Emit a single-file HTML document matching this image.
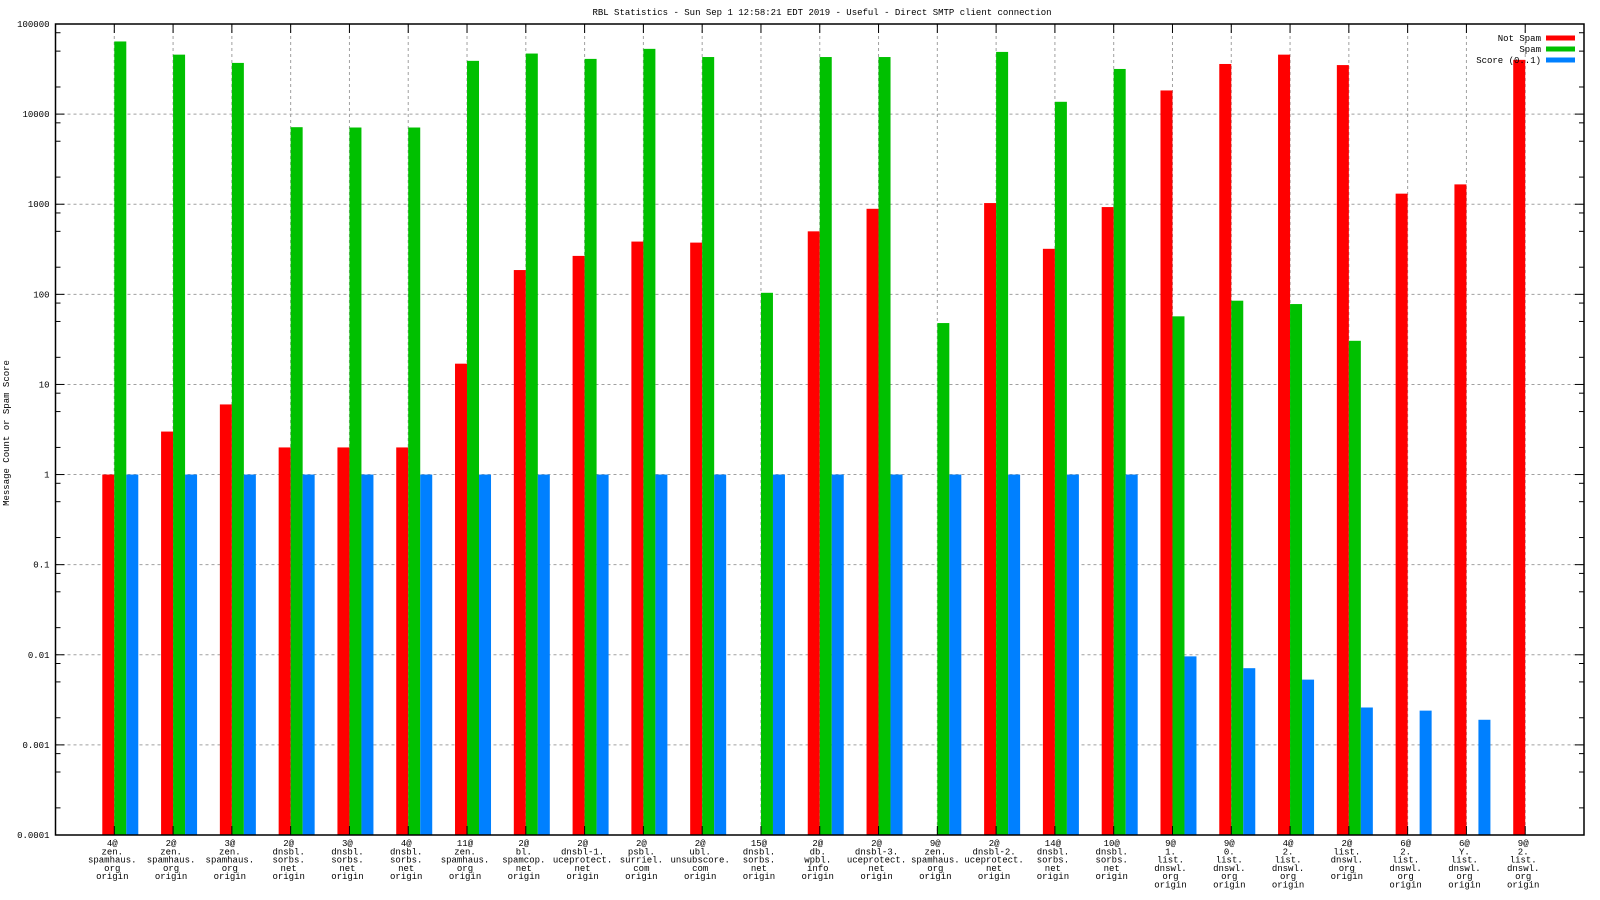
<!DOCTYPE html>
<html><head><meta charset="utf-8"><style>
html,body{margin:0;padding:0;background:#fff;}
svg{display:block;font-family:"Liberation Mono","DejaVu Sans Mono",monospace;}
</style></head><body>
<svg id="chart" width="1600" height="900" viewBox="0 0 1600 900" xmlns="http://www.w3.org/2000/svg">
<rect width="1600" height="900" fill="#fff"/>
<text x="822" y="15" font-size="9" text-anchor="middle">RBL Statistics - Sun Sep  1 12:58:21 EDT 2019 - Useful - Direct SMTP client connection</text>
<text x="0" y="0" font-size="9" text-anchor="middle" transform="translate(9,433) rotate(-90)">Message Count or Spam Score</text>
<g id="grid"></g><g id="bars"></g><g id="axes"></g><g id="legend"></g>
</svg>
<script>
const categories = [
 ["4@","zen.","spamhaus.","org","origin"],["2@","zen.","spamhaus.","org","origin"],["3@","zen.","spamhaus.","org","origin"],
 ["2@","dnsbl.","sorbs.","net","origin"],["3@","dnsbl.","sorbs.","net","origin"],["4@","dnsbl.","sorbs.","net","origin"],
 ["11@","zen.","spamhaus.","org","origin"],["2@","bl.","spamcop.","net","origin"],["2@","dnsbl-1.","uceprotect.","net","origin"],
 ["2@","psbl.","surriel.","com","origin"],["2@","ubl.","unsubscore.","com","origin"],["15@","dnsbl.","sorbs.","net","origin"],
 ["2@","db.","wpbl.","info","origin"],["2@","dnsbl-3.","uceprotect.","net","origin"],["9@","zen.","spamhaus.","org","origin"],
 ["2@","dnsbl-2.","uceprotect.","net","origin"],["14@","dnsbl.","sorbs.","net","origin"],["10@","dnsbl.","sorbs.","net","origin"],
 ["9@","1.","list.","dnswl.","org","origin"],["9@","0.","list.","dnswl.","org","origin"],["4@","2.","list.","dnswl.","org","origin"],
 ["2@","list.","dnswl.","org","origin"],["6@","2.","list.","dnswl.","org","origin"],["6@","Y.","list.","dnswl.","org","origin"],
 ["9@","2.","list.","dnswl.","org","origin"]
];
const notSpam = [1,3,6,2,2,2,17,186,267,385,375,0,500,890,0,1030,320,930,18300,36000,45700,35000,1310,1660,40000];
const spam = [64000,45700,37000,7160,7100,7100,39000,47000,41000,53000,43000,104,43000,43000,48,49000,13700,31700,57,85,78,30.5,0,0,0];
const score = [1,1,1,1,1,1,1,1,1,1,1,1,1,1,1,1,1,1,0.0096,0.0071,0.0053,0.0026,0.0024,0.0019,0];
const yTickLabels = ["0.0001","0.001","0.01","0.1","1","10","100","1000","10000","100000"];
const seriesNames = ["Not Spam","Spam","Score (0..1)"];
const colors = ["#ff0000","#00c000","#0080ff"];

const NS="http://www.w3.org/2000/svg";
const L=55.5,R=1584,T=24,B=835;
const minE=-4,maxE=5;
function yScale(v){return B-(Math.log10(v)-minE)/(maxE-minE)*(B-T);}
const n=categories.length, step=(R-L)/(n+1), bw=12;
function xScale(i){return L+step*(i+1);}
function mk(tag,attrs,parent){const e=document.createElementNS(NS,tag);for(const k in attrs)e.setAttribute(k,attrs[k]);parent.appendChild(e);return e;}
const grid=document.getElementById('grid'),bars=document.getElementById('bars'),axes=document.getElementById('axes'),legend=document.getElementById('legend');

yTickLabels.forEach((lab,k)=>{
  const v=parseFloat(lab),y=yScale(v);
  if(k>0&&k<yTickLabels.length-1){const g=mk('line',{x1:L,x2:R,y1:y,y2:y,stroke:'#a0a0a0','stroke-dasharray':'3,3'},grid);
  
  }
  const t=mk('text',{x:L-6,y:y+3,'font-size':9,'text-anchor':'end'},axes);t.textContent=lab;
  
  
  mk('line',{x1:L,x2:L+9,y1:y,y2:y,stroke:'#000'},axes);
  mk('line',{x1:R,x2:R-9,y1:y,y2:y,stroke:'#000'},axes);
  if(k<yTickLabels.length-1){[2,5,8].forEach(m=>{const ym=yScale(v*m);
    mk('line',{x1:L,x2:L+5,y1:ym,y2:ym,stroke:'#000'},axes);
    mk('line',{x1:R,x2:R-5,y1:ym,y2:ym,stroke:'#000'},axes);});}
});
categories.forEach((lines,i)=>{
  const x=xScale(i);
  const g=mk('line',{x1:x,x2:x,y1:T,y2:B,stroke:'#a0a0a0','stroke-dasharray':'3,3'},grid);
  
  
  mk('line',{x1:x,x2:x,y1:B,y2:B-9,stroke:'#000'},axes);
  mk('line',{x1:x,x2:x,y1:T,y2:T+9,stroke:'#000'},axes);
  const t=mk('text',{x:x-2,'font-size':9,'text-anchor':'middle'},axes);
  
  
  lines.forEach((ln,j)=>{const s=mk('tspan',{x:x-2,y:846+j*8.3},t);s.textContent=ln;});
  [notSpam,spam,score].forEach((arr,s)=>{
    const v=arr[i]; if(!(v>0))return;
    const y=yScale(v), x0=x+(s-1)*bw;
    const r=mk('rect',{x:x0,y:y,width:bw,height:B-y,fill:colors[s]},bars);
    
    
  });
});
const frame=mk('rect',{x:L,y:T,width:R-L,height:B-T,fill:'none',stroke:'#000','stroke-width':1.5},axes);


seriesNames.forEach((nm,s)=>{
  const y=38+s*11;
  const t=mk('text',{x:1541,y:y+3,'font-size':9,'text-anchor':'end'},legend);t.textContent=nm;
  
  
  const r=mk('rect',{x:1546,y:y-2.5,width:29,height:5,fill:colors[s]},legend);
  
  
});
</script>
</body></html>
